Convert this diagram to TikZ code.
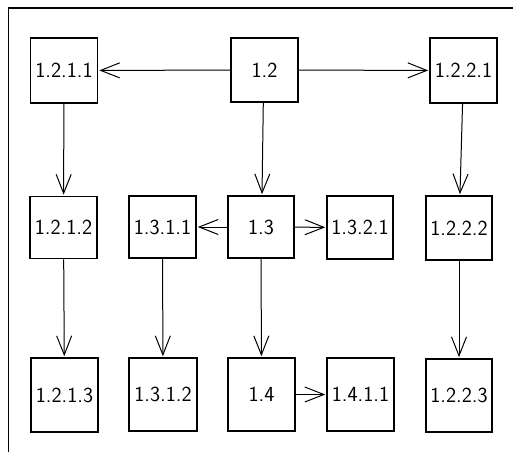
\documentclass[tikz,border=0pt]{standalone}
\usepackage{fontspec}
\usetikzlibrary{arrows.meta}
\begin{document}
\begin{tikzpicture}[x=1pt,y=-1pt,
  box/.style={draw,line width=1.8pt,inner sep=0pt,font=\fontsize{21.5}{24}\selectfont\sffamily},
  link/.style={line width=1pt,-{Straight Barb[length=19pt,width=15pt,line width=1pt]},shorten >=0.9pt}]
\useasboundingbox (0,0) rectangle (513,452);
\draw[line width=1.3pt] (8.5,452) -- (8.5,8) -- (513,8);
% row 1
\node[box,minimum width=67pt,minimum height=65pt] (a) at (64,70.5) {1.2.1.1};
\node[box,minimum width=67pt,minimum height=64pt] (b) at (264.5,70) {1.2};
\node[box,minimum width=67pt,minimum height=65pt] (c) at (463.5,70.5) {1.2.2.1};
% row 2
\node[box,minimum width=67pt,minimum height=62pt] (d) at (63.5,227.5) {1.2.1.2};
\node[box,minimum width=67pt,minimum height=62pt] (e) at (162.5,227) {1.3.1.1};
\node[box,minimum width=66pt,minimum height=62pt] (f) at (261,227) {1.3};
\node[box,minimum width=66pt,minimum height=63pt] (g) at (360,227.5) {1.3.2.1};
\node[box,minimum width=66pt,minimum height=64pt] (h) at (459,228) {1.2.2.2};
% row 3
\node[box,minimum width=67pt,minimum height=74pt] (i) at (64.5,395) {1.2.1.3};
\node[box,minimum width=68pt,minimum height=73pt] (j) at (163,394.5) {1.3.1.2};
\node[box,minimum width=67pt,minimum height=73pt] (k) at (261.5,394.5) {1.4};
\node[box,minimum width=67pt,minimum height=73pt] (l) at (360.5,394.5) {1.4.1.1};
\node[box,minimum width=66pt,minimum height=73pt] (m) at (459,395.5) {1.2.2.3};
% connectors
\draw[link] (b) -- (a);
\draw[link] (b) -- (c);
\draw[link] (a) -- (d);
\draw[link] ([xshift=-1.2pt]b.south) -- ([xshift=1pt]f.north);
\draw[link] (c) -- (h);
\draw[link] (f) -- (e);
\draw[link] (f) -- (g);
\draw[link] (d) -- (i);
\draw[link] (e) -- (j);
\draw[link] (f) -- (k);
\draw[link] (h) -- (m);
\draw[link] (k) -- (l);
\end{tikzpicture}
\end{document}
